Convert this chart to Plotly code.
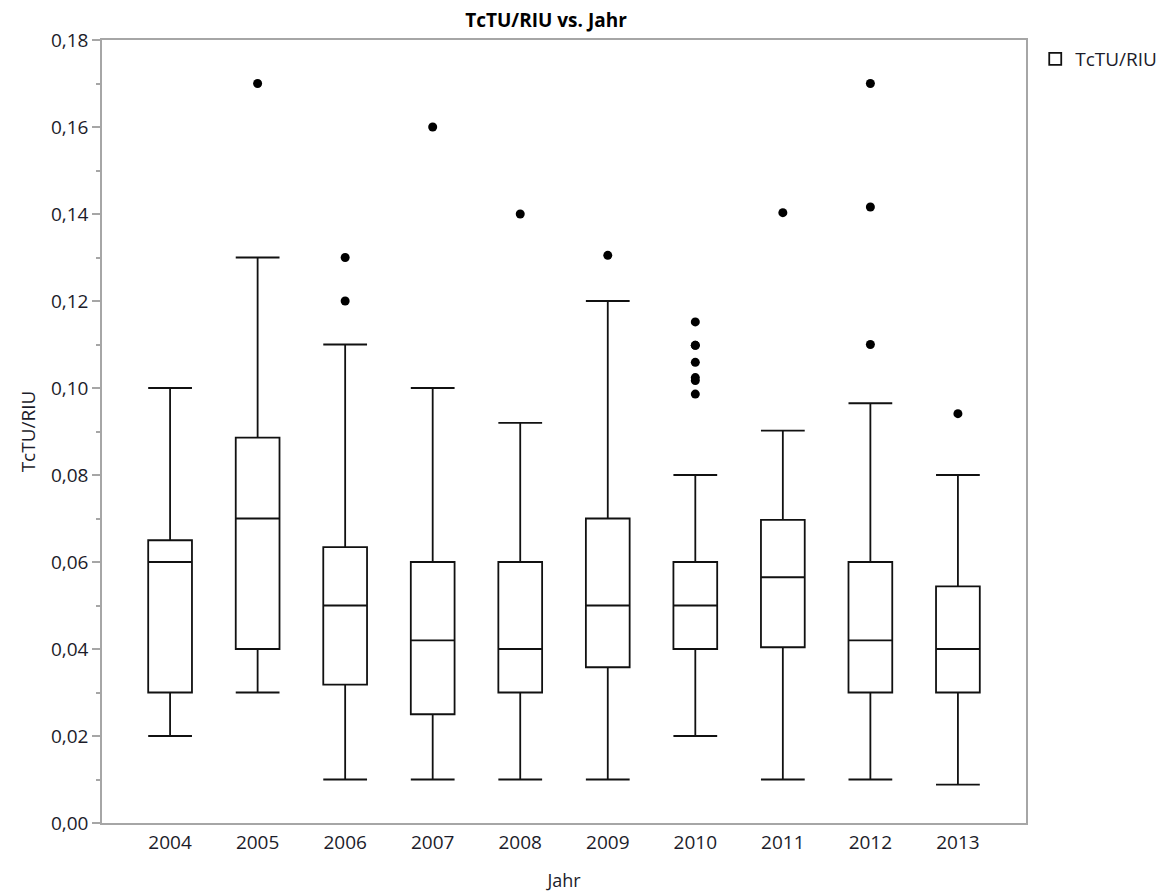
import plotly.graph_objects as go

# box statistics per year
years = ["2004", "2005", "2006", "2007", "2008", "2009", "2010", "2011", "2012", "2013"]
lower = [0.020, 0.030, 0.010, 0.010, 0.010, 0.010, 0.020, 0.010, 0.010, 0.0088]
q1 = [0.030, 0.040, 0.0318, 0.025, 0.030, 0.0358, 0.040, 0.0404, 0.030, 0.030]
median = [0.060, 0.070, 0.050, 0.042, 0.040, 0.050, 0.050, 0.0565, 0.042, 0.040]
q3 = [0.065, 0.0886, 0.0634, 0.060, 0.060, 0.070, 0.060, 0.0697, 0.060, 0.0544]
upper = [0.100, 0.130, 0.110, 0.100, 0.092, 0.120, 0.080, 0.0902, 0.0965, 0.080]

# outliers
out_years = ["2005", "2006", "2006", "2007", "2008", "2009",
             "2010", "2010", "2010", "2010", "2010", "2010", "2010",
             "2011", "2012", "2012", "2012", "2013"]
out_vals = [0.170, 0.130, 0.120, 0.160, 0.140, 0.1305,
            0.0986, 0.1017, 0.1024, 0.1059, 0.1098, 0.1098, 0.1152,
            0.1403, 0.170, 0.1416, 0.110, 0.0941]

font = "Open Sans, Segoe UI, sans-serif"
axis_grey = "#a6a6a6"

fig = go.Figure()
fig.add_trace(go.Box(
    x=years, lowerfence=lower, q1=q1, median=median, q3=q3, upperfence=upper,
    name="TcTU/RIU", boxpoints=False, width=0.5, whiskerwidth=1,
    line=dict(color="#111111", width=1.8), fillcolor="rgba(255,255,255,0)",
))
fig.add_trace(go.Scatter(
    x=out_years, y=out_vals, mode="markers", showlegend=False,
    marker=dict(color="black", size=9),
))

# page body has an 8px margin, so the figure is a bit smaller than the window
fig.update_layout(
    width=1168, height=884,
    paper_bgcolor="white", plot_bgcolor="white",
    margin=dict(l=94, r=150, t=32, b=69, autoexpand=False),
    font=dict(family=font, size=19, color="#1c1c2a"),
    separators=",.",
    title=dict(text="<b>TcTU/RIU vs. Jahr</b>", x=0.4805, xref="paper", xanchor="center",
               y=0.9864, yanchor="middle", font=dict(size=19, color="black")),
    legend=dict(x=1.01, y=1.0, xanchor="left", yanchor="top", font=dict(size=19)),
)
fig.update_xaxes(
    type="category", title_text="Jahr", title_standoff=21, automargin=False,
    title_font=dict(size=18),
    showline=True, linecolor=axis_grey, linewidth=1.5, mirror=True,
    showgrid=False, ticks="", ticklabelstandoff=1,
)
fig.update_yaxes(
    title_text="TcTU/RIU", title_standoff=10, automargin=False, title_font=dict(size=19),
    range=[0, 0.18], dtick=0.02, tickformat=".2f",
    showline=True, linecolor=axis_grey, linewidth=1.5, mirror=True,
    showgrid=False, zeroline=False,
    ticks="outside", ticklen=8, tickcolor=axis_grey, tickwidth=1.5,
    minor=dict(dtick=0.01, ticks="outside", ticklen=4, tickcolor=axis_grey, tickwidth=1.5),
)

fig.write_html("out.html")
